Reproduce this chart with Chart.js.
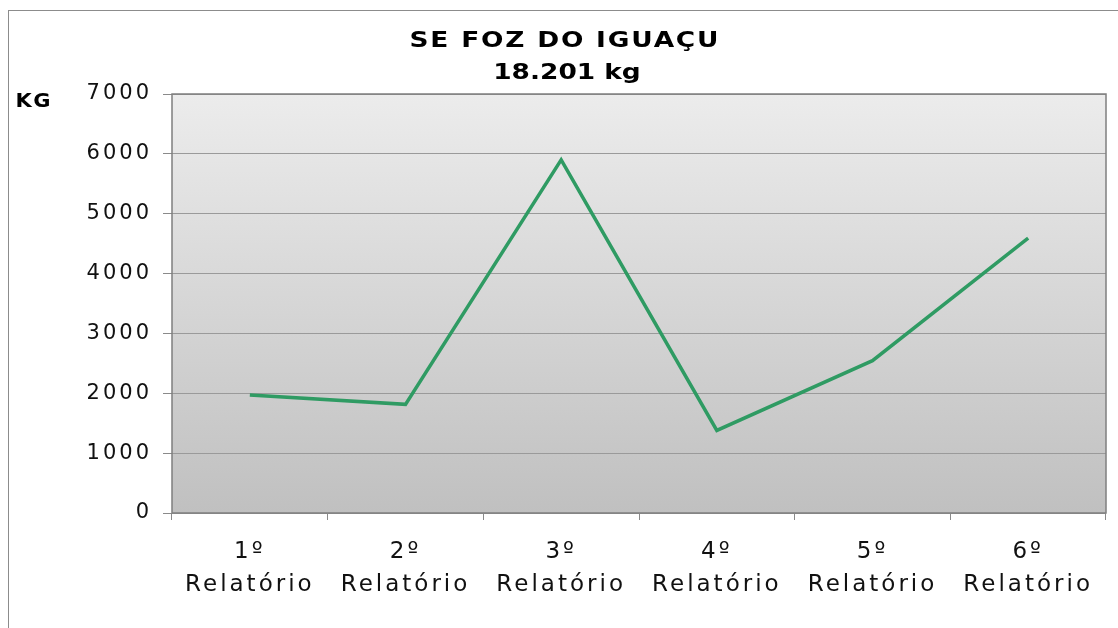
<!DOCTYPE html>
<html>
<head>
<meta charset="utf-8">
<script src="https://cdn.jsdelivr.net/npm/chart.js@4/dist/chart.umd.min.js"></script>
<style>
  html, body { margin: 0; padding: 0; background: #fff; }
  #wrap { width: 1118px; height: 628px; position: relative; }
</style>
</head>
<body>
<div id="wrap"><canvas id="chart"></canvas></div>
<script>
// data
const categories = ["1º", "2º", "3º", "4º", "5º", "6º"];
const categoryWord = "Relatório";
const kgValues = [1970, 1815, 5900, 1380, 2545, 4591];
const titleLines = ["SE FOZ DO IGUAÇU", "18.201 kg"];
const unitLabel = "KG";
const yTicks = [0, 1000, 2000, 3000, 4000, 5000, 6000, 7000];

const FONT = "'DejaVu Sans', 'Liberation Sans', sans-serif";

// draws text stretched a little sideways, like the wide original face
function wideText(ctx, text, cx, y, stretch, spacing) {
  ctx.save();
  ctx.letterSpacing = spacing + "px";
  const w = ctx.measureText(text).width - spacing;
  ctx.translate(cx - (w * stretch) / 2, y);
  ctx.scale(stretch, 1);
  ctx.textAlign = "left";
  ctx.fillText(text, 0, 0);
  ctx.restore();
}

// frame, plot background, plot border, title and unit label
const decor = {
  id: "decor",
  beforeDraw(chart) {
    const { ctx, chartArea: a } = chart;
    ctx.save();
    ctx.strokeStyle = "#8c8c8c";
    ctx.lineWidth = 1;
    ctx.strokeRect(8.5, 10.5, chart.width + 20, chart.height + 20);
    const g = ctx.createLinearGradient(0, a.top, 0, a.bottom);
    g.addColorStop(0, "#ececec");
    g.addColorStop(1, "#c0c0c0");
    ctx.fillStyle = g;
    ctx.fillRect(a.left, a.top, a.right - a.left, a.bottom - a.top);
    ctx.restore();
    // spaced-out lettering for the tick labels
    ctx.letterSpacing = "3px";
  },
  beforeDatasetsDraw(chart) {
    const { ctx, chartArea: a } = chart;
    ctx.save();
    ctx.strokeStyle = "#7f7f7f";
    ctx.lineWidth = 1.5;
    ctx.strokeRect(a.left, a.top, a.right - a.left, a.bottom - a.top);
    ctx.restore();
  },
  afterDraw(chart) {
    const { ctx } = chart;
    ctx.save();
    ctx.fillStyle = "#000";
    ctx.textBaseline = "alphabetic";
    ctx.font = "bold 22px " + FONT;
    wideText(ctx, titleLines[0], 564, 47, 1.2, 1.5);
    wideText(ctx, titleLines[1], 567, 79, 1.2, 0);
    ctx.font = "bold 20px " + FONT;
    wideText(ctx, unitLabel, 33, 107, 1.05, 1.5);
    ctx.restore();
    ctx.letterSpacing = "0px";
  }
};

Chart.defaults.font.family = FONT;
Chart.defaults.color = "#111";

const ctx = document.getElementById("chart").getContext("2d");
const myChart = new Chart(ctx, {
  type: "line",
  data: {
    labels: categories.map((c) => [c, categoryWord]),
    datasets: [
      {
        label: "KG",
        data: kgValues,
        borderColor: "#2f9b63",
        borderWidth: 3.5,
        pointRadius: 0,
        tension: 0,
        fill: false,
      },
    ],
  },
  options: {
    responsive: true,
    maintainAspectRatio: false,
    animation: false,
    layout: { padding: { top: 94, right: 12, left: 0, bottom: 0 } },
    plugins: {
      legend: { display: false },
      title: { display: false },
      tooltip: { enabled: false },
    },
    scales: {
      x: {
        offset: true,
        grid: {
          offset: true,
          drawOnChartArea: false,
          tickLength: 7,
          tickColor: "#8a8a8a",
        },
        border: { display: false },
        ticks: {
          font: { size: 23, lineHeight: 1.46 },
          padding: 15,
          maxRotation: 0,
          autoSkip: false,
        },
        afterFit(scale) {
          scale.height = 115;
        },
      },
      y: {
        min: yTicks[0],
        max: yTicks[yTicks.length - 1],
        afterBuildTicks(scale) {
          scale.ticks = yTicks.map((v) => ({ value: v }));
        },
        grid: {
          color: "#9a9a9a",
          tickLength: 9,
          tickColor: "#8a8a8a",
        },
        border: { display: false },
        ticks: {
          font: { size: 21 },
          padding: 11,
          callback: (v) => String(v),
        },
        afterFit(scale) {
          scale.width = 172;
        },
      },
    },
  },
  plugins: [decor],
});
</script>
</body>
</html>
